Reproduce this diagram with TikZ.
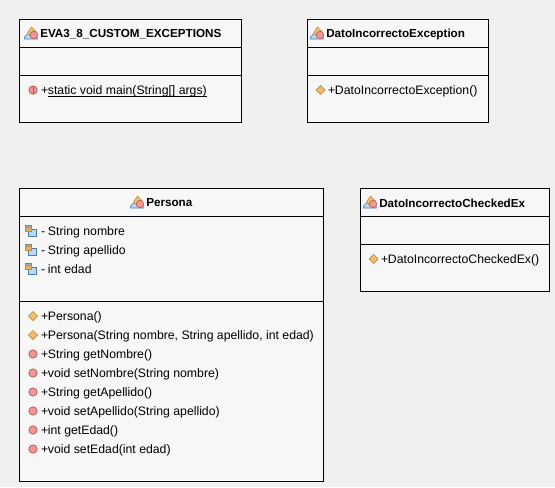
\documentclass[tikz,border=0pt]{standalone}
\usepackage{fontspec}
\usepackage{xcolor}
\setmainfont{Liberation Sans}
\usetikzlibrary{arrows.meta,positioning,shapes.geometric}
\definecolor{umlback}{RGB}{240,240,240}
\definecolor{umlfill}{RGB}{247,247,247}
\definecolor{umlorange}{RGB}{236,190,110}
\definecolor{umledge}{RGB}{190,140,70}
\definecolor{umlred}{RGB}{240,150,150}
\definecolor{umlredge}{RGB}{175,85,85}
\definecolor{umlblue}{RGB}{185,215,240}
\definecolor{umlbedge}{RGB}{75,125,170}
\newcommand{\vis}[1]{\makebox[5.2pt][l]{#1}}

\begin{document}
\begin{tikzpicture}[x=0.75pt,y=-0.75pt,node distance=0pt,
        part/.style={rectangle,draw=black,fill=umlfill,line width=0.75pt,outer sep=0pt,inner sep=0pt,
          minimum width=#1*0.75pt},
        headpart/.style={part=#1,minimum height=21pt},
        title/.style={inner sep=0pt,font=\fontsize{8.75}{10}\selectfont\bfseries},
        member/.style={inner sep=0pt,outer sep=0pt,minimum height=14.25pt,text height=8pt,text depth=1.5pt,
          font=\fontsize{9.2}{10}\selectfont},
        classicon/.pic={
          \draw[umlbedge,fill=umlblue,line width=0.4pt] (-7,3) -- (-4,0) -- (5,0) -- (6,5) -- (-7,5) -- cycle;
          \draw[umledge,fill=umlorange,line width=0.4pt] (-4,-1) -- (0,-7) -- (5,-2) -- (0,3) -- cycle;
          \draw[umlredge,fill=umlred,line width=0.4pt] (2.5,1) circle (3.8);
        },
        fieldicon/.pic={
          \draw[umlbedge,fill=umlblue,line width=0.5pt] (-3,-2) rectangle (5,5);
          \draw[gray,fill=gray!60,line width=0.4pt] (-6,-6) rectangle (0,-4);
          \draw[umledge,fill=umlorange!80!brown,line width=0.4pt] (-6,-4) rectangle (0,0);
        },
        ctoricon/.pic={
          \draw[umledge,fill=umlorange,line width=0.5pt,rotate=45] (-3.2,-3.2) rectangle (3.2,3.2);
        },
        methodicon/.pic={
          \draw[umlredge,fill=umlred,line width=0.5pt] (0,0) circle (4.2);
        },
        staticicon/.pic={
          \draw[umlredge,fill=umlred,line width=0.5pt] (0,0) circle (4.2);
          \draw[umlredge,line width=0.5pt] (0,-4.2) -- (0,4.2);
        }]
        \fill[umlback] (0,0) rectangle (555,487);

        \node[headpart=222,anchor=north west] (evahead) at (19,19) {};
        \node[part=222,minimum height=21pt,below=of evahead] (evafields) {};
        \node[part=222,minimum height=35.25pt,below=of evafields] (evamethods) {};
        \node[title,anchor=west] (evatitle) at (40,34) {EVA3\_8\_CUSTOM\_EXCEPTIONS};
        \pic at ([xshift=-6.4pt]evatitle.west) {classicon};
        \node[member,anchor=west] (evamain) at (41,90) {\vis{+}\underline{\smash{static void main(String[] args)}}};
        \pic at ([xshift=-6pt]evamain.west) {staticicon};

        \node[headpart=181,anchor=north west] (dato) at (307,19) {};
        \node[part=181,minimum height=21pt,below=of dato] (datofields) {};
        \node[part=181,minimum height=35.25pt,below=of datofields] (datomethods) {};
        \node[title,anchor=west] (datotitle) at (326,34) {DatoIncorrectoException};
        \pic at ([xshift=-6.4pt]datotitle.west) {classicon};
        \node[member,anchor=west] (datoctor) at (328,90) {\vis{+}DatoIncorrectoException()};
        \pic at ([xshift=-5.5pt]datoctor.west) {ctoricon};

        \node[headpart=304,anchor=north west] (persona) at (19,188) {};
        \node[part=304,minimum height=63.75pt,below=of persona] (personafields) {};
        \node[part=304,minimum height=135pt,below=of personafields] (personamethods) {};
        \node[title,anchor=west] (personatitle) at (146,203) {Persona};
        \pic at ([xshift=-6.4pt]personatitle.west) {classicon};

        \node[member,anchor=west] (nombre) at (41,231) {\vis{-}String nombre};
        \node[member,below=of nombre.south west,anchor=north west] (apellido) {\vis{-}String apellido};
        \node[member,below=of apellido.south west,anchor=north west] (edad) {\vis{-}int edad};
        \foreach \fieldname in {nombre,apellido,edad}
          \pic at ([xshift=-7.5pt]\fieldname.west) {fieldicon};

        \node[member,anchor=west] (ctora) at (41,316) {\vis{+}Persona()};
        \node[member,below=of ctora.south west,anchor=north west] (ctorb) {\vis{+}Persona(String nombre, String apellido, int edad)};
        \node[member,below=of ctorb.south west,anchor=north west] (getnombre) {\vis{+}String getNombre()};
        \node[member,below=of getnombre.south west,anchor=north west] (setnombre) {\vis{+}void setNombre(String nombre)};
        \node[member,below=of setnombre.south west,anchor=north west] (getapellido) {\vis{+}String getApellido()};
        \node[member,below=of getapellido.south west,anchor=north west] (setapellido) {\vis{+}void setApellido(String apellido)};
        \node[member,below=of setapellido.south west,anchor=north west] (getedad) {\vis{+}int getEdad()};
        \node[member,below=of getedad.south west,anchor=north west] (setedad) {\vis{+}void setEdad(int edad)};
        \foreach \ctorname in {ctora,ctorb}
          \pic at ([xshift=-6pt]\ctorname.west) {ctoricon};
        \foreach \methodname in {getnombre,setnombre,getapellido,setapellido,getedad,setedad}
          \pic at ([xshift=-6pt]\methodname.west) {methodicon};

        \node[headpart=189,anchor=north west] (checked) at (360,188) {};
        \node[part=189,minimum height=21pt,below=of checked] (checkedfields) {};
        \node[part=189,minimum height=35.25pt,below=of checkedfields] (checkedmethods) {};
        \node[title,anchor=west] (checkedtitle) at (379,203) {DatoIncorrectoCheckedEx};
        \pic at ([xshift=-6.4pt]checkedtitle.west) {classicon};
        \node[member,anchor=west] (checkedctor) at (381,259) {\vis{+}DatoIncorrectoCheckedEx()};
        \pic at ([xshift=-5.5pt]checkedctor.west) {ctoricon};
      \end{tikzpicture}
\end{document}
